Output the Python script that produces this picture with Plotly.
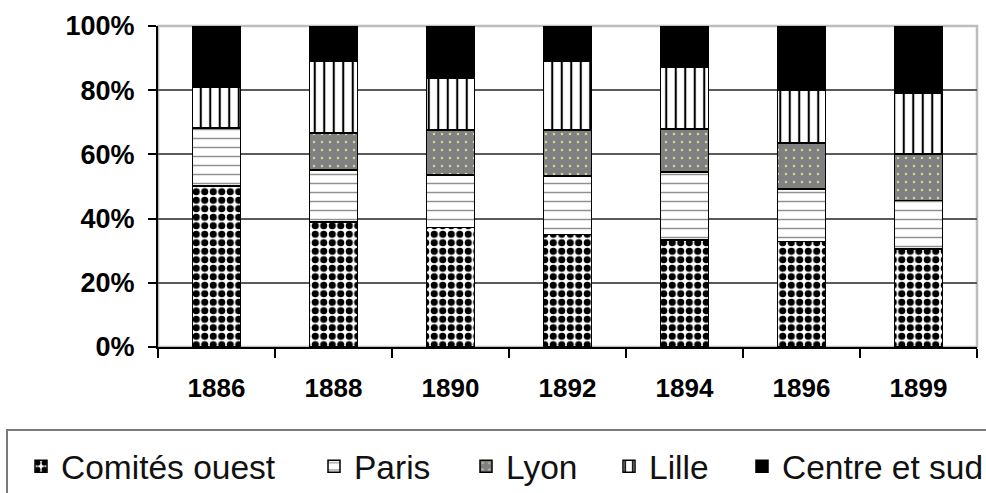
import plotly.graph_objects as go

years = ["1886", "1888", "1890", "1892", "1894", "1896", "1899"]
series_names = ["Comités ouest", "Paris", "Lyon", "Lille", "Centre et sud"]
comites = [50.2, 38.9, 37.2, 35.0, 33.3, 32.9, 30.5]
paris = [18.0, 16.2, 16.4, 18.3, 21.2, 16.3, 15.2]
lyon = [0.0, 11.6, 14.0, 14.3, 13.4, 14.4, 14.4]
lille = [12.8, 22.2, 16.1, 21.3, 19.3, 16.5, 19.0]
centre = [19.0, 11.1, 16.3, 11.1, 12.8, 19.9, 20.9]
y_tickvals = [0, 20, 40, 60, 80, 100]
y_ticktext = ["0%", "20%", "40%", "60%", "80%", "100%"]

series_values = [comites, paris, lyon, lille, centre]
patterns = [
    dict(shape=".", fgcolor="black", bgcolor="white", size=8.5, solidity=0.55, fillmode="replace"),
    dict(shape="-", fgcolor="#8f8f8f", bgcolor="white", size=9, solidity=0.16, fillmode="replace"),
    dict(shape=".", fgcolor="#d6d6a8", bgcolor="#808080", size=8, solidity=0.08, fillmode="replace"),
    dict(shape="|", fgcolor="black", bgcolor="white", size=9.5, solidity=0.22, fillmode="replace"),
    None,
]
colors = ["black", "white", "#808080", "white", "black"]

# plot area in pixels: x 158..977, y 26..347
PL, PR, PT, PB = 158.0, 977.0, 26.0, 347.0
def px_x(p):
    return (p - PL) / (PR - PL)
def px_y(p):
    return (PB - p) / (PB - PT)

legend_left_px = [21, 314, 466, 609, 742]
legend_ids = ["legend", "legend2", "legend3", "legend4", "legend5"]

fig = go.Figure()
for name, vals, pat, col, lid in zip(series_names, series_values, patterns, colors, legend_ids):
    marker = dict(color=col, line=dict(color="black", width=1.5))
    if pat is not None:
        marker["pattern"] = pat
    fig.add_trace(go.Bar(x=years, y=vals, name=name, marker=marker, legend=lid))

legend_common = dict(
    orientation="h", xanchor="left", yanchor="top",
    y=px_y(438), borderwidth=0, bgcolor="rgba(0,0,0,0)",
    font=dict(family="Liberation Sans", size=33.5, color="#111111"),
)
layout_legends = {}
for lid, lx in zip(legend_ids, legend_left_px):
    layout_legends[lid] = dict(legend_common, x=px_x(lx))

fig.update_layout(
    barmode="stack",
    bargap=0.59,
    width=986,
    height=493,
    margin=dict(l=PL, r=986 - PR, t=PT, b=493 - PB, autoexpand=False),
    paper_bgcolor="white",
    plot_bgcolor="white",
    showlegend=True,
    shapes=[
        dict(type="rect", xref="paper", yref="paper", x0=0, x1=1, y0=0, y1=1,
             line=dict(color="#bdbdbd", width=2.5), layer="between"),
        dict(type="rect", xref="paper", yref="paper",
             x0=px_x(7), x1=px_x(995), y0=px_y(505), y1=px_y(430),
             line=dict(color="#7a7a7a", width=2), fillcolor="rgba(0,0,0,0)", layer="below"),
    ],
    **layout_legends,
)
fig.update_xaxes(
    type="category",
    showline=True, linecolor="black", linewidth=2,
    ticks="outside", tickson="boundaries", ticklen=9, tickwidth=1.5, tickcolor="black",
    tickfont=dict(family="Liberation Sans", size=26, color="black", weight=700),
    ticklabelstandoff=17,
    showgrid=False,
)
fig.update_yaxes(
    range=[0, 100],
    tickvals=y_tickvals, ticktext=y_ticktext,
    showline=True, linecolor="black", linewidth=2,
    ticks="outside", ticklen=8, tickwidth=1.5, tickcolor="black",
    tickfont=dict(family="Liberation Sans", size=27, color="black", weight=700),
    ticklabelstandoff=8,
    showgrid=True, gridcolor="#5a5a5a", gridwidth=2,
    zeroline=False,
)

fig.write_html(
    "out.html",
    config={"displayModeBar": False},
    post_script="document.body.style.margin='0';document.body.style.overflow='hidden';",
)
